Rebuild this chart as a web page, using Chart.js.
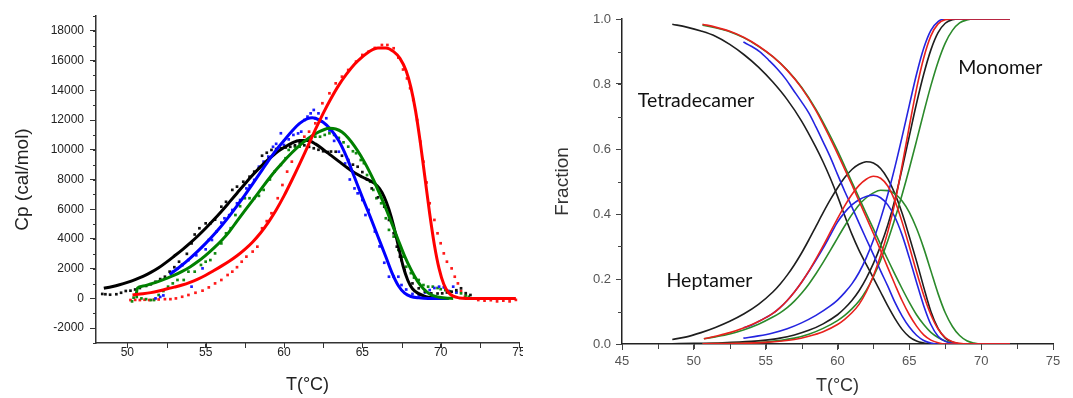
<!DOCTYPE html>
<html>
<head>
<meta charset="utf-8">
<script src="https://cdn.jsdelivr.net/npm/chart.js@4.4.0/dist/chart.umd.min.js"></script>
<style>
  html, body { margin: 0; padding: 0; background: #fff; }
  #wrap { position: relative; width: 1073px; height: 398px; overflow: hidden; }
  #cpChart { position: absolute; left: 0; top: 0; }
  #fracChart { position: absolute; left: 540px; top: 0; }
</style>
</head>
<body>
<div id="wrap">
  <canvas id="cpChart" width="523" height="398"></canvas>
  <canvas id="fracChart" width="533" height="398"></canvas>
</div>
<script>
// ---- DSC scans: [T (°C), Cp (cal/mol)] ----
const blackScan = [[48.4,300],[48.6,280],[48.9,250],[49.3,280],[49.6,380],[49.9,500],[50.2,520],[50.5,600],[50.8,700],[51.2,840],[51.5,950],[51.8,1120],[52.1,1300],[52.4,1460],[52.7,1800],[53.0,2100],[53.3,2470],[53.5,2250],[53.8,3000],[54.1,3700],[54.3,4300],[54.6,4720],[55.0,5050],[55.3,5050],[55.6,5300],[56.0,6170],[56.3,6500],[56.7,7300],[57.0,7520],[57.4,7850],[57.8,8190],[58.1,8530],[58.4,8750],[58.6,9600],[58.9,9800],[59.2,9990],[59.5,10050],[59.8,10100],[60.1,10150],[60.4,10200],[60.7,10300],[61.0,10450],[61.3,10300],[61.6,10200],[61.9,10100],[62.2,10000],[62.5,9900],[62.8,9850],[63.0,9880],[63.3,9870],[63.7,9600],[64.1,9310],[64.4,9000],[64.7,8860],[65.0,8500],[65.3,8000],[65.6,7400],[66.0,6800],[66.4,6170],[66.7,5280],[67.0,4380],[67.2,3480],[67.4,2810],[67.5,2580],[67.7,1910],[68.2,1010],[68.6,680],[69.0,450],[69.4,340],[69.8,330],[70.1,340],[70.4,400],[70.7,450],[71.0,550],[71.3,680],[71.6,350],[71.9,230]];
const blueScan = [[51.8,0],[52.1,100],[52.3,200],[52.9,1800],[53.2,2000],[53.5,2250],[53.9,2580],[54.1,790],[54.4,2900],[54.8,2020],[55.0,3300],[55.2,3930],[55.4,3930],[55.7,4500],[56.0,5100],[56.2,5390],[56.5,5600],[56.7,5950],[57.0,6400],[57.2,6620],[57.6,7400],[57.8,7600],[58.1,7970],[58.4,8860],[58.7,9200],[59.0,9540],[59.3,10200],[59.5,10400],[59.8,11110],[60.0,10320],[60.3,10700],[60.6,11000],[60.9,11100],[61.1,11220],[61.3,12000],[61.5,12230],[61.7,12450],[61.9,12680],[62.0,12120],[62.2,12450],[62.4,11900],[62.7,12120],[62.9,11300],[63.2,10600],[63.5,9870],[63.9,9080],[64.2,8000],[64.5,7400],[64.7,7070],[65.0,6620],[65.2,5610],[65.4,5950],[65.8,4500],[66.1,3500],[66.4,2400],[66.7,1460],[67.0,1460],[67.3,1460],[67.5,900],[67.8,600],[68.2,300],[68.6,200],[69.0,400],[69.3,560],[69.6,700],[69.9,790],[70.2,740],[70.5,500],[70.8,790],[71.0,400]];
const greenScan = [[50.3,-200],[50.4,50],[50.6,100],[50.9,0],[51.2,-50],[51.5,-110],[51.7,-110],[52.0,230],[52.3,500],[52.6,790],[52.9,1010],[53.2,1240],[53.6,1240],[53.9,1800],[54.3,1800],[54.7,2250],[55.0,2470],[55.3,2580],[55.6,3030],[56.0,3700],[56.3,4380],[56.6,4720],[56.9,5610],[57.2,6200],[57.5,6740],[57.8,6740],[58.1,6740],[58.4,6900],[58.7,7300],[59.1,8000],[59.4,8530],[59.8,8980],[60.1,9430],[60.3,9990],[60.7,10210],[61.0,10210],[61.2,10550],[61.6,10660],[62.0,10880],[62.3,10880],[62.6,11000],[62.9,11110],[63.2,11000],[63.5,10800],[63.8,10500],[64.1,10210],[64.4,9900],[64.6,9770],[64.9,9310],[65.1,9100],[65.3,8300],[65.5,7850],[65.7,7300],[65.9,6740],[66.2,6400],[66.5,5390],[66.7,4610],[67.0,4160],[67.3,3260],[67.6,2810],[67.8,2130],[68.1,1700],[68.3,1400],[68.6,1240],[68.9,900],[69.2,790],[69.5,790],[69.8,700],[70.0,620],[70.3,560],[70.6,480],[71.0,400],[71.3,340],[71.6,200],[71.8,110]];
const redScan = [[50.2,-110],[50.5,-100],[50.8,-110],[51.1,-90],[51.4,-110],[51.7,-80],[52.0,-70],[52.4,-50],[52.75,-50],[53.1,0],[53.5,110],[53.9,230],[54.35,380],[54.8,520],[55.2,740],[55.6,1010],[56.0,1240],[56.4,1575],[56.7,1800],[57.0,2100],[57.3,2470],[57.6,2810],[58.0,3150],[58.3,3480],[58.6,4720],[58.9,5200],[59.2,5730],[59.6,6740],[59.9,7630],[60.2,8530],[60.5,9200],[61.0,10210],[61.3,10880],[61.6,11220],[62.0,11780],[62.45,13130],[62.9,13800],[63.3,14470],[63.7,14920],[64.1,15370],[64.6,15930],[65.0,16380],[65.4,16600],[65.8,16850],[66.25,17050],[66.6,17050],[67.0,16830],[67.3,16200],[67.6,15400],[67.85,14800],[68.05,14140],[68.25,13350],[68.5,12000],[68.7,10550],[68.9,9200],[69.1,7800],[69.3,6400],[69.6,5280],[69.8,4380],[70.0,3710],[70.2,3030],[70.4,2470],[70.7,2020],[70.9,1460],[71.1,1010],[71.3,500],[71.55,110],[72.0,0],[72.4,-110],[72.8,-150],[73.2,-120],[73.6,-200],[74.0,-150],[74.4,-200],[74.8,-100]];

// fitted Cp curves
const blackFit = [[48.5,680],[49.0,790],[49.5,920],[50.0,1080],[50.5,1270],[51.0,1490],[51.5,1750],[52.0,2060],[52.5,2440],[53.0,2850],[53.5,3270],[54.0,3720],[54.5,4200],[55.0,4720],[55.5,5270],[56.0,5850],[56.5,6460],[57.0,7080],[57.5,7700],[58.0,8300],[58.5,8850],[59.0,9350],[59.5,9800],[60.0,10150],[60.5,10450],[61.0,10620],[61.5,10620],[62.0,10400],[62.5,10020],[63.0,9620],[63.5,9220],[64.0,8820],[64.5,8450],[65.0,8170],[65.5,7920],[65.8,7720],[66.1,7380],[66.4,6820],[66.7,5980],[67.0,4870],[67.3,3520],[67.6,2180],[67.9,1220],[68.2,650],[68.6,320],[69.0,140],[69.5,40],[70.0,0],[70.5,0]];
const blueFit = [[52.7,1600],[53.0,1840],[53.5,2250],[54.0,2700],[54.5,3180],[55.0,3700],[55.5,4260],[56.0,4870],[56.5,5520],[57.0,6220],[57.5,6950],[58.0,7700],[58.5,8480],[59.0,9250],[59.5,9980],[60.0,10620],[60.5,11250],[61.0,11780],[61.5,12100],[61.8,12160],[62.0,12120],[62.5,11850],[63.0,11350],[63.5,10600],[64.0,9500],[64.5,8150],[65.0,6800],[65.5,5500],[66.0,4150],[66.5,2800],[66.9,1700],[67.3,850],[67.7,350],[68.1,130],[68.6,40],[69.2,0],[70.5,0]];
const greenFit = [[50.55,150],[50.65,700],[51.0,830],[51.5,980],[52.0,1150],[52.5,1350],[53.0,1560],[53.5,1820],[54.0,2120],[54.5,2480],[55.0,2900],[55.5,3370],[56.0,3880],[56.5,4480],[57.0,5200],[57.5,5900],[58.0,6600],[58.5,7300],[59.0,8000],[59.5,8650],[60.0,9250],[60.5,9800],[61.0,10300],[61.5,10730],[62.0,11080],[62.5,11330],[62.9,11440],[63.3,11400],[63.7,11200],[64.1,10800],[64.5,10250],[64.9,9600],[65.3,8850],[65.7,8000],[66.1,7050],[66.5,6050],[66.9,5000],[67.3,3900],[67.7,2850],[68.1,1950],[68.5,1200],[68.9,650],[69.3,300],[69.8,100],[70.3,20],[70.8,0]];
const redFit = [[50.33,230],[51.0,310],[51.5,390],[52.0,500],[52.5,630],[53.0,760],[53.5,900],[54.0,1080],[54.5,1300],[55.0,1560],[55.5,1860],[56.0,2170],[56.5,2500],[57.0,2870],[57.5,3300],[58.0,3800],[58.5,4400],[59.0,5120],[59.5,5950],[60.0,6900],[60.5,7950],[61.0,9050],[61.5,10200],[62.0,11350],[62.5,12450],[63.0,13450],[63.5,14350],[64.0,15100],[64.5,15750],[65.0,16250],[65.5,16650],[66.0,16850],[66.5,16850],[67.0,16600],[67.4,16150],[67.8,15300],[68.1,14200],[68.4,12600],[68.7,10500],[69.0,8100],[69.3,5700],[69.6,3600],[69.9,2000],[70.2,950],[70.5,400],[70.8,150],[71.2,30],[71.6,0],[74.8,0]];

const cpTicks = [-2000, 0, 2000, 4000, 6000, 8000, 10000, 12000, 14000, 16000, 18000];
const tempTicks = [50, 55, 60, 65, 70, 75];

// ---- species fractions: [T (°C), fraction] ----
const tetraBlack = [[48.5,0.984],[49.5,0.975],[50.5,0.963],[51.5,0.947],[52.5,0.922],[53.5,0.890],[54.5,0.852],[55.5,0.806],[56.5,0.752],[57.5,0.686],[58.5,0.605],[59.0,0.560],[59.5,0.510],[60.0,0.455],[60.5,0.395],[61.0,0.338],[61.5,0.288],[62.0,0.245],[62.5,0.203],[63.0,0.160],[63.5,0.117],[64.0,0.078],[64.5,0.045],[65.0,0.022],[65.5,0.009],[66.0,0.003],[66.5,0],[72.0,0]];
const tetraRed = [[50.6,0.984],[51.5,0.975],[52.5,0.962],[53.5,0.943],[54.5,0.917],[55.5,0.884],[56.5,0.842],[57.5,0.788],[58.5,0.718],[59.5,0.632],[60.0,0.586],[60.5,0.538],[61.0,0.490],[61.5,0.440],[62.0,0.390],[62.5,0.340],[63.0,0.288],[63.5,0.235],[64.0,0.183],[64.5,0.133],[65.0,0.090],[65.5,0.055],[66.0,0.028],[66.5,0.012],[67.0,0.004],[67.5,0],[72.0,0]];
const tetraGreen = [[50.6,0.981],[51.5,0.973],[52.5,0.961],[53.5,0.942],[54.5,0.916],[55.5,0.884],[56.5,0.843],[57.5,0.790],[58.5,0.722],[59.5,0.640],[60.0,0.595],[60.5,0.547],[61.0,0.498],[61.5,0.450],[62.0,0.401],[62.5,0.354],[63.0,0.306],[63.5,0.260],[64.0,0.214],[64.5,0.170],[65.0,0.128],[65.5,0.090],[66.0,0.060],[66.5,0.036],[67.0,0.020],[67.5,0.009],[68.0,0.003],[68.5,0],[72.0,0]];
const tetraBlue = [[53.45,0.929],[54.0,0.916],[54.6,0.899],[55.2,0.874],[55.8,0.847],[56.4,0.815],[56.9,0.783],[57.5,0.745],[58.0,0.711],[58.5,0.668],[59.0,0.622],[59.5,0.575],[60.0,0.522],[60.5,0.470],[61.0,0.422],[61.5,0.372],[62.0,0.323],[62.5,0.275],[63.0,0.225],[63.5,0.178],[64.0,0.128],[64.5,0.086],[65.0,0.052],[65.5,0.027],[66.0,0.011],[66.5,0.003],[67.0,0],[72.0,0]];
const heptaBlack = [[48.5,0.014],[49.5,0.022],[50.5,0.035],[51.5,0.051],[52.5,0.070],[53.5,0.093],[54.5,0.122],[55.5,0.160],[56.0,0.184],[56.5,0.212],[57.0,0.244],[57.5,0.280],[58.0,0.320],[58.5,0.362],[59.0,0.404],[59.5,0.444],[60.0,0.480],[60.5,0.512],[61.0,0.537],[61.5,0.553],[62.0,0.561],[62.5,0.557],[63.0,0.540],[63.5,0.508],[64.0,0.462],[64.5,0.402],[65.0,0.330],[65.5,0.255],[66.0,0.175],[66.5,0.100],[67.0,0.048],[67.5,0.018],[68.0,0.006],[68.5,0.001],[69.0,0],[72.0,0]];
const heptaRed = [[50.7,0.016],[51.5,0.024],[52.5,0.035],[53.5,0.050],[54.5,0.069],[55.5,0.094],[56.0,0.112],[56.5,0.134],[57.0,0.160],[57.5,0.190],[58.0,0.224],[58.5,0.262],[59.0,0.302],[59.5,0.344],[60.0,0.386],[60.5,0.425],[61.0,0.460],[61.5,0.488],[62.0,0.507],[62.5,0.516],[63.0,0.510],[63.5,0.486],[64.0,0.440],[64.5,0.375],[65.0,0.300],[65.5,0.222],[66.0,0.150],[66.5,0.090],[67.0,0.046],[67.5,0.020],[68.0,0.007],[68.5,0.002],[69.0,0],[72.0,0]];
const heptaBlue = [[53.45,0.050],[54.0,0.058],[54.5,0.069],[55.0,0.081],[55.5,0.094],[56.0,0.112],[56.5,0.134],[57.0,0.160],[57.5,0.190],[58.0,0.223],[58.5,0.258],[59.0,0.295],[59.5,0.335],[60.0,0.375],[60.5,0.405],[61.0,0.428],[61.5,0.444],[62.0,0.454],[62.5,0.458],[63.0,0.450],[63.5,0.428],[64.0,0.390],[64.5,0.335],[65.0,0.265],[65.5,0.190],[66.0,0.118],[66.5,0.060],[67.0,0.024],[67.5,0.008],[68.0,0.002],[68.5,0],[72.0,0]];
const heptaGreen = [[50.7,0.016],[51.5,0.022],[52.5,0.031],[53.5,0.044],[54.5,0.061],[55.5,0.083],[56.0,0.096],[56.5,0.112],[57.0,0.132],[57.5,0.156],[58.0,0.184],[58.5,0.216],[59.0,0.251],[59.5,0.288],[60.0,0.326],[60.5,0.363],[61.0,0.398],[61.5,0.428],[62.0,0.450],[62.5,0.465],[63.0,0.473],[63.5,0.472],[64.0,0.462],[64.5,0.440],[65.0,0.405],[65.5,0.356],[66.0,0.295],[66.5,0.225],[67.0,0.155],[67.5,0.096],[68.0,0.054],[68.5,0.026],[69.0,0.010],[69.5,0.003],[70.0,0],[72.0,0]];
const monoBlack = [[48.5,0.001],[50.0,0.002],[52.0,0.004],[54.0,0.008],[55.0,0.012],[56.0,0.018],[57.0,0.028],[58.0,0.042],[59.0,0.062],[60.0,0.090],[60.5,0.110],[61.0,0.134],[61.5,0.164],[62.0,0.202],[62.5,0.248],[63.0,0.302],[63.5,0.366],[64.0,0.445],[64.5,0.540],[65.0,0.640],[65.5,0.740],[66.0,0.830],[66.5,0.905],[67.0,0.958],[67.5,0.987],[68.0,0.998],[68.5,1.0],[72.0,1.0]];
const monoRed = [[50.6,0.001],[53.0,0.002],[55.0,0.005],[57.0,0.014],[58.0,0.024],[59.0,0.038],[60.0,0.060],[60.5,0.076],[61.0,0.096],[61.5,0.122],[62.0,0.160],[62.5,0.210],[63.0,0.272],[63.5,0.345],[64.0,0.435],[64.5,0.550],[65.0,0.670],[65.5,0.785],[66.0,0.880],[66.5,0.948],[67.0,0.985],[67.5,0.998],[68.0,1.0],[72.0,1.0]];
const monoBlue = [[53.45,0.018],[54.5,0.025],[55.5,0.034],[56.5,0.047],[57.5,0.065],[58.5,0.088],[59.5,0.117],[60.0,0.135],[60.5,0.158],[61.0,0.185],[61.5,0.220],[62.0,0.265],[62.5,0.320],[63.0,0.385],[63.5,0.460],[64.0,0.545],[64.5,0.638],[65.0,0.735],[65.5,0.830],[66.0,0.910],[66.5,0.965],[67.0,0.992],[67.5,1.0],[72.0,1.0]];
const monoGreen = [[50.6,0.001],[53.0,0.002],[55.0,0.006],[57.0,0.018],[58.0,0.030],[59.0,0.048],[60.0,0.072],[60.5,0.088],[61.0,0.108],[61.5,0.132],[62.0,0.165],[62.5,0.207],[63.0,0.258],[63.5,0.318],[64.0,0.386],[64.5,0.460],[65.0,0.540],[65.5,0.625],[66.0,0.712],[66.5,0.795],[67.0,0.868],[67.5,0.926],[68.0,0.965],[68.5,0.988],[69.0,0.997],[69.5,1.0],[72.0,1.0]];

const speciesNames = ['Tetradecamer', 'Heptamer', 'Monomer'];

const pts = arr => arr.map(([x, y]) => ({ x, y }));

function fitLine(data, color, width) {
  return { data: pts(data), showLine: true, borderColor: color, borderWidth: width,
           pointRadius: 0, cubicInterpolationMode: 'monotone', fill: false, order: 0 };
}
function scanDots(data, color) {
  return { data: pts(data), showLine: false, backgroundColor: color, borderWidth: 0,
           pointStyle: 'rect', pointRadius: 1.9, order: 1 };
}

// small in-between ticks the library doesn't draw on its own
const minorTicks = {
  id: 'minorTicks',
  afterDraw(chart, args, o) {
    const { ctx, scales: { x, y } } = chart;
    ctx.save();
    ctx.strokeStyle = o.color;
    ctx.lineWidth = 1;
    for (let v = Math.ceil(x.min / o.xStep) * o.xStep; v <= x.max + 1e-9; v += o.xStep) {
      const px = Math.round(x.getPixelForValue(v)) + 0.5;
      ctx.beginPath(); ctx.moveTo(px, x.top); ctx.lineTo(px, x.top + o.xLen); ctx.stroke();
    }
    for (let v = Math.ceil(y.min / o.yStep) * o.yStep; v <= y.max + 1e-9; v += o.yStep) {
      const py = Math.round(y.getPixelForValue(v)) + 0.5;
      ctx.beginPath(); ctx.moveTo(y.right, py); ctx.lineTo(y.right - o.yLen, py); ctx.stroke();
    }
    ctx.restore();
  }
};

// species names written next to their curves
const curveLabels = {
  id: 'curveLabels',
  afterDatasetsDraw(chart, args, o) {
    if (!o.items) return;
    const { ctx, scales: { x, y } } = chart;
    ctx.save();
    ctx.font = o.font;
    ctx.fillStyle = o.color;
    ctx.textAlign = 'left';
    ctx.textBaseline = 'middle';
    o.items.forEach(it => ctx.fillText(it.text, x.getPixelForValue(it.t), y.getPixelForValue(it.f)));
    ctx.restore();
  }
};

function axisFit(w, h) {
  return {
    x: s => { s.height = h; s.paddingLeft = 0; s.paddingRight = 0; },
    y: s => { s.width = w; s.paddingTop = 0; s.paddingBottom = 0; }
  };
}

Chart.defaults.font.family = '"Liberation Sans", Arial, sans-serif';
Chart.defaults.animation = false;

// ---- left: heat capacity ----
const leftFit = axisFit(96, 55);
new Chart(document.getElementById('cpChart'), {
  type: 'scatter',
  data: {
    datasets: [
      fitLine(redFit, '#ff0000', 3), fitLine(greenFit, '#008000', 3),
      fitLine(blueFit, '#0000ff', 3), fitLine(blackFit, '#000000', 3),
      scanDots(blackScan, '#111111'), scanDots(blueScan, '#1a1aff'),
      scanDots(greenScan, '#108a10'), scanDots(redScan, '#ff1a1a')
    ]
  },
  options: {
    responsive: false,
    devicePixelRatio: 1,
    layout: { padding: { left: 0, right: 2, top: 16, bottom: 0 } },
    plugins: { legend: { display: false }, tooltip: { enabled: false },
               minorTicks: { xStep: 2.5, yStep: 1000, xLen: 5, yLen: 3, color: '#333' } },
    scales: {
      x: {
        type: 'linear', min: 48, max: 75,
        afterBuildTicks: s => { s.ticks = tempTicks.map(v => ({ value: v })); },
        afterFit: leftFit.x,
        ticks: { color: '#222', font: { size: 12 }, padding: -3, maxRotation: 0 },
        grid: { drawOnChartArea: false, tickLength: 5, tickColor: '#333', tickWidth: 1 },
        border: { color: '#333', width: 1.5 },
        title: { display: true, text: 'T(°C)', color: '#222', font: { size: 18 }, padding: { bottom: 2 } }
      },
      y: {
        type: 'linear', min: -3000, max: 19000,
        afterBuildTicks: s => { s.ticks = cpTicks.map(v => ({ value: v })); },
        afterFit: leftFit.y,
        ticks: { color: '#222', font: { size: 12 }, padding: 6, callback: v => String(v) },
        grid: { drawOnChartArea: false, tickLength: 6, tickColor: '#333', tickWidth: 1 },
        border: { color: '#333', width: 1.5 },
        title: { display: true, text: 'Cp (cal/mol)', color: '#222', font: { size: 19 }, padding: { top: 11 } }
      }
    }
  },
  plugins: [minorTicks]
});

// ---- right: species fractions ----
const rightFit = axisFit(82, 54);
const cBlack = '#1e1e1e', cRed = '#e8211d', cBlue = '#2424e0', cGreen = '#2b8a2b';
new Chart(document.getElementById('fracChart'), {
  type: 'scatter',
  data: {
    datasets: [
      fitLine(tetraRed, cRed, 1.6), fitLine(heptaRed, cRed, 1.6), fitLine(monoRed, cRed, 1.6),
      fitLine(tetraBlue, cBlue, 1.6), fitLine(heptaBlue, cBlue, 1.6), fitLine(monoBlue, cBlue, 1.6),
      fitLine(tetraGreen, cGreen, 1.6), fitLine(heptaGreen, cGreen, 1.6), fitLine(monoGreen, cGreen, 1.6),
      fitLine(tetraBlack, cBlack, 1.6), fitLine(heptaBlack, cBlack, 1.6), fitLine(monoBlack, cBlack, 1.6)
    ]
  },
  options: {
    responsive: false,
    devicePixelRatio: 1,
    layout: { padding: { left: 0, right: 20, top: 19, bottom: 0 } },
    plugins: {
      legend: { display: false }, tooltip: { enabled: false },
      minorTicks: { xStep: 2.5, yStep: 0.1, xLen: 5, yLen: 4, color: '#444' },
      curveLabels: {
        font: '19.5px Lato, "Open Sans", sans-serif', color: '#111',
        items: [
          { text: speciesNames[0], t: 46.1, f: 0.75 },
          { text: speciesNames[1], t: 48.1, f: 0.194 },
          { text: speciesNames[2], t: 68.4, f: 0.849 }
        ]
      }
    },
    scales: {
      x: {
        type: 'linear', min: 45, max: 75,
        afterFit: rightFit.x,
        ticks: { stepSize: 5, color: '#555', font: { size: 13 }, padding: 4, maxRotation: 0 },
        grid: { drawOnChartArea: false, tickLength: 6, tickColor: '#444', tickWidth: 1 },
        border: { color: '#222', width: 1.5 },
        title: { display: true, text: 'T(°C)', color: '#333', font: { size: 18 }, padding: { bottom: 1 } }
      },
      y: {
        type: 'linear', min: 0, max: 1,
        afterFit: rightFit.y,
        ticks: { stepSize: 0.2, color: '#555', font: { size: 13 }, padding: 5, callback: v => v.toFixed(1) },
        grid: { drawOnChartArea: false, tickLength: 6, tickColor: '#444', tickWidth: 1 },
        border: { color: '#222', width: 1.5 },
        title: { display: true, text: 'Fraction', color: '#333', font: { size: 19 }, padding: { top: 11 } }
      }
    }
  },
  plugins: [minorTicks, curveLabels]
});
</script>
</body>
</html>
